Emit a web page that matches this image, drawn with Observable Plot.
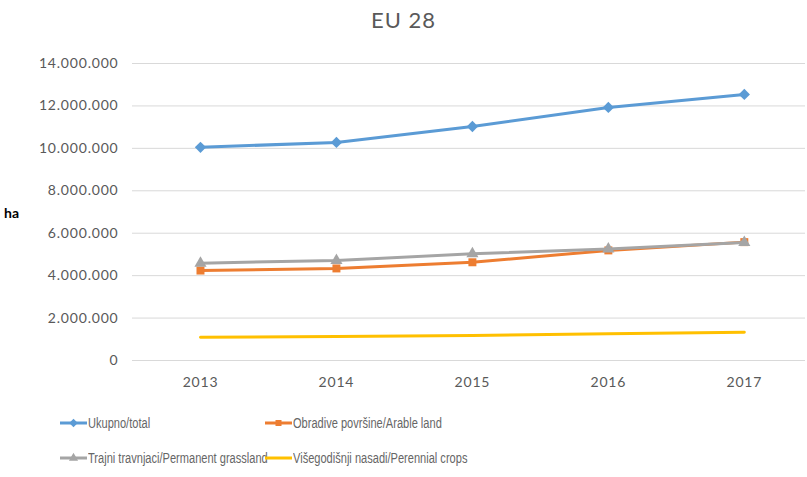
<!DOCTYPE html>
<html><head><meta charset="utf-8">
<script src="https://cdn.jsdelivr.net/npm/d3@7"></script>
<script src="https://cdn.jsdelivr.net/npm/@observablehq/plot@0.6"></script>
<style>
body{margin:0;background:#fff;font-family:Lato,"Open Sans",sans-serif;}
#wrap{position:relative;width:807px;height:477px;overflow:hidden;}
#title{position:absolute;left:0;top:6px;width:807px;text-align:center;font-size:22px;letter-spacing:1px;color:#595959;}
#chart{position:absolute;left:0;top:44px;}
#ha{position:absolute;left:4px;top:204px;font-size:14px;font-weight:bold;color:#000;}
.leg{position:absolute;font-family:"Liberation Sans",sans-serif;font-size:14px;color:#666;display:flex;align-items:center;white-space:nowrap;}
.leg svg{margin-right:1px;}
.leg span{display:inline-block;transform:scaleX(0.79);transform-origin:left center;}
#chart svg text{letter-spacing:0.8px;}
</style></head>
<body><div id="wrap">
<div id="title">EU 28</div>
<div id="chart"></div>
<div id="ha">ha</div>
<div id="legend"></div>
</div>
<script>
const years = [2013, 2014, 2015, 2016, 2017];
const total = [10050000, 10280000, 11030000, 11930000, 12540000];
const arable = [4240000, 4340000, 4630000, 5190000, 5580000];
const grassland = [4590000, 4710000, 5030000, 5260000, 5560000];
const perennial = [1100000, 1130000, 1180000, 1260000, 1330000];
const yTicks = [0, 2000000, 4000000, 6000000, 8000000, 10000000, 12000000, 14000000];
const seriesNames = ["Ukupno/total", "Obradive površine/Arable land", "Trajni travnjaci/Permanent grassland", "Višegodišnji nasadi/Perennial crops"];
const seriesColors = ["#5B9BD5", "#ED7D31", "#A5A5A5", "#FFC000"];

const squareDiamond = {draw(ctx, size) { const r = Math.sqrt(size / 2); ctx.moveTo(0, -r); ctx.lineTo(r, 0); ctx.lineTo(0, r); ctx.lineTo(-r, 0); ctx.closePath(); }};
const seriesSymbols = [squareDiamond, d3.symbolSquare, d3.symbolTriangle, null];

const seriesValues = [total, arable, grassland, perennial];
const data = seriesValues.flatMap((vals, i) => years.map((y, j) => ({year: y, value: vals[j], series: seriesNames[i]})));
const fmt = d3.formatLocale({thousands: ".", grouping: [3], decimal: ","}).format(",");

const marks = [
  Plot.gridY(yTicks, {stroke: "#D9D9D9", strokeOpacity: 1, strokeWidth: 1}),
  Plot.axisY(yTicks, {tickSize: 0, tickPadding: 14, tickFormat: fmt, fontSize: 14, fill: "#595959", label: null}),
  Plot.axisX(years, {tickSize: 0, tickPadding: 17, tickFormat: d => String(d), fontSize: 14, fill: "#595959", label: null})
];
seriesNames.forEach((name, i) => {
  const d = data.filter(r => r.series === name);
  marks.push(Plot.line(d, {x: "year", y: "value", stroke: seriesColors[i], strokeWidth: 3}));
  if (seriesSymbols[i]) marks.push(Plot.dot(d, {x: "year", y: "value", fill: seriesColors[i], symbol: seriesSymbols[i], r: 4.5}));
});

const chart = Plot.plot({
  width: 807, height: 356,
  marginLeft: 132, marginRight: 2, marginTop: 19, marginBottom: 40,
  style: {fontFamily: "Lato, 'Open Sans', sans-serif", background: "transparent"},
  x: {type: "linear", domain: [2012.5, 2017.45]},
  y: {domain: [0, 14000000]},
  marks
});
document.getElementById("chart").appendChild(chart);

const legPos = [[60, 415], [265, 415], [60, 450], [265, 450]];
const legend = document.getElementById("legend");
seriesNames.forEach((name, i) => {
  const div = document.createElement("div");
  div.className = "leg";
  div.style.left = legPos[i][0] + "px";
  div.style.top = legPos[i][1] + "px";
  const s = d3.create("svg").attr("width", 27).attr("height", 14);
  s.append("line").attr("x1", 0).attr("x2", 27).attr("y1", 7).attr("y2", 7).attr("stroke", seriesColors[i]).attr("stroke-width", 3);
  if (seriesSymbols[i]) {
    s.append("path").attr("d", d3.symbol(seriesSymbols[i], 36)()).attr("transform", "translate(13.5,7)").attr("fill", seriesColors[i]);
  }
  div.appendChild(s.node());
  const t = document.createElement("span");
  t.textContent = name;
  div.appendChild(t);
  legend.appendChild(div);
});
</script>
</body></html>
